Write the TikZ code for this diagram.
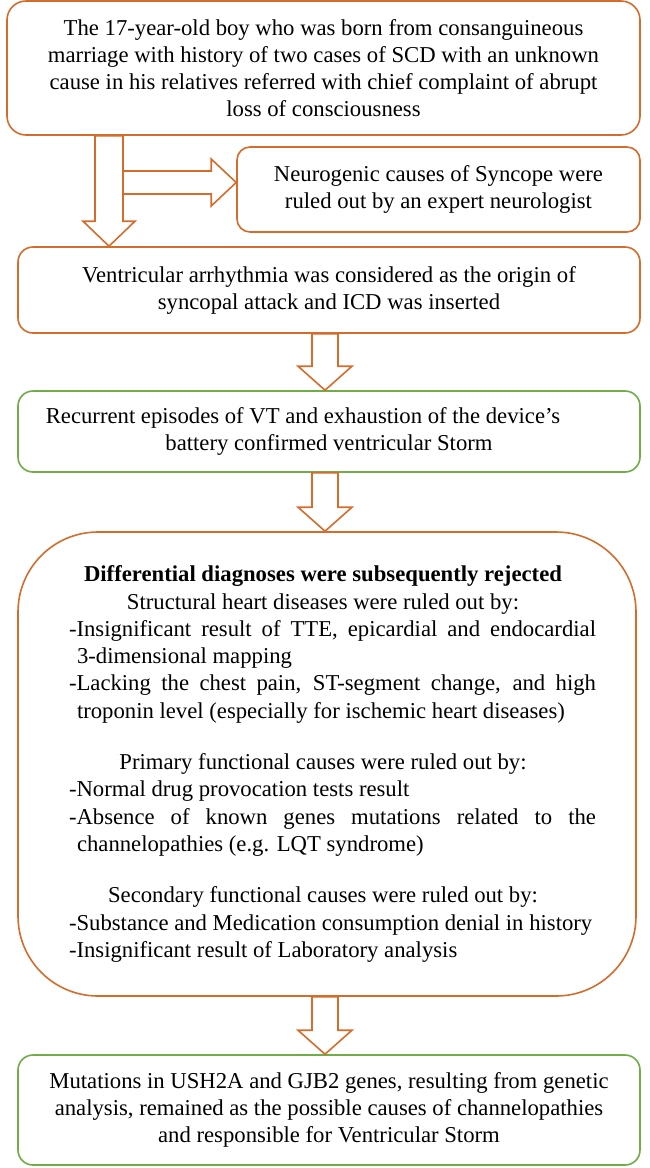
\documentclass[tikz,border=0pt]{standalone}
\usepackage{fontspec}
\setmainfont{Liberation Serif}
\usetikzlibrary{calc}
\definecolor{caseorange}{RGB}{212,108,44}
\definecolor{casegreen}{RGB}{112,173,71}
\newcommand{\ddxhead}[1]{{\centering #1\hspace*{19pt}\par}}
\newcommand{\ddxitem}[1]{{\hangindent=8pt\hangafter=1 #1\par}}
\hbadness=10000

\begin{document}
\begin{tikzpicture}[x=1pt,y=-1pt,
    every node/.style={font=\fontsize{22.7}{27}\selectfont},
    orangebox/.style={draw=caseorange,line width=1.6pt,rounded corners=15pt,align=center},
    greenbox/.style={draw=casegreen,line width=1.6pt,rounded corners=15pt,align=center},
    blockarrow/.style={draw=caseorange,fill=white,line width=1.6pt}]
            \useasboundingbox (0,0) rectangle (649,1168);
            % boxes
            \node[orangebox,rounded corners=19pt,minimum width=633pt,minimum height=134pt] (boy) at (323.5,68)
                {The 17-year-old boy who was born from consanguineous\\ marriage with history of two cases of SCD with an unknown\\ cause in his relatives referred with chief complaint of abrupt\\ loss of consciousness};
            \node[orangebox,rounded corners=13pt,minimum width=403pt,minimum height=85pt] (neuro) at (438.5,189.5)
                {Neurogenic causes of Syncope were\\ ruled out by an expert neurologist};
            \node[orangebox,minimum width=622pt,minimum height=86pt] (vent) at (329,290)
                {Ventricular arrhythmia was considered as the origin of\\ syncopal attack and ICD was inserted};
            \node[greenbox,minimum width=622pt,minimum height=81pt] (storm) at (329,431.5)
                {Recurrent episodes of VT and exhaustion of the device’s\hspace*{52pt}\\ battery confirmed ventricular Storm};
            \node[orangebox,rounded corners=80pt,minimum width=618pt,minimum height=464pt] (ddx) at (327,764)
                {\hspace*{11pt}\begin{minipage}{527pt}
                \fontsize{22.7}{27.3}\selectfont\tolerance=10000
                \ddxhead{\textbf{Differential diagnoses were subsequently rejected}}
                \ddxhead{Structural heart diseases were ruled out by:}
                \ddxitem{-Insignificant result of TTE, epicardial and endocardial\linebreak 3-dimensional mapping}
                \ddxitem{-Lacking the chest pain, ST-segment change, and high\linebreak troponin level (especially for ischemic heart diseases)}
                \vspace{24pt}
                \ddxhead{Primary functional causes were ruled out by:}
                \ddxitem{-Normal drug provocation tests result}
                \ddxitem{-Absence of known genes mutations related to the\linebreak channelopathies (e.g. LQT syndrome)}
                \vspace{24pt}
                \ddxhead{Secondary functional causes were ruled out by:}
                \ddxitem{-Substance and Medication consumption denial in history}
                \ddxitem{-Insignificant result of Laboratory analysis}
                \end{minipage}};
            \node[greenbox,minimum width=622pt,minimum height=110pt] (genes) at (329,1110)
                {Mutations in USH2A and GJB2 genes, resulting from genetic\\ analysis, remained as the possible causes of channelopathies\\ and responsible for Ventricular Storm};
            % side arrow to the neurologist box
            \coordinate (split) at (123,182.5);
            \draw[blockarrow] let \p1=(split), \p2=(neuro.west) in
                (\x1,\y1+11.5pt) -- (\x2-25pt,\y1+11.5pt) -- (\x2-25pt,\y1+23.5pt) -- (\x2,\y1)
                -- (\x2-25pt,\y1-23.5pt) -- (\x2-25pt,\y1-11.5pt) -- (\x1,\y1-11.5pt);
            % first down arrow
            \draw[blockarrow] let \p1=(boy.south), \p2=(vent.north) in
                (95pt,\y1) -- (123pt,\y1) -- (123pt,\y2+25pt) -- (135pt,\y2+25pt) -- (109pt,\y2)
                -- (83pt,\y2+25pt) -- (95pt,\y2+25pt) -- cycle;
            % remaining down arrows
            \foreach \a/\b in {vent/storm, storm/ddx, ddx/genes}
                \draw[blockarrow] let \p1=(\a.south), \p2=(\b.north) in
                    (312pt,\y1) -- (338pt,\y1) -- (338pt,\y2+24pt) -- (352pt,\y2+24pt) -- (325pt,\y2)
                    -- (298pt,\y2+24pt) -- (312pt,\y2+24pt) -- cycle;
        \end{tikzpicture}
\end{document}
